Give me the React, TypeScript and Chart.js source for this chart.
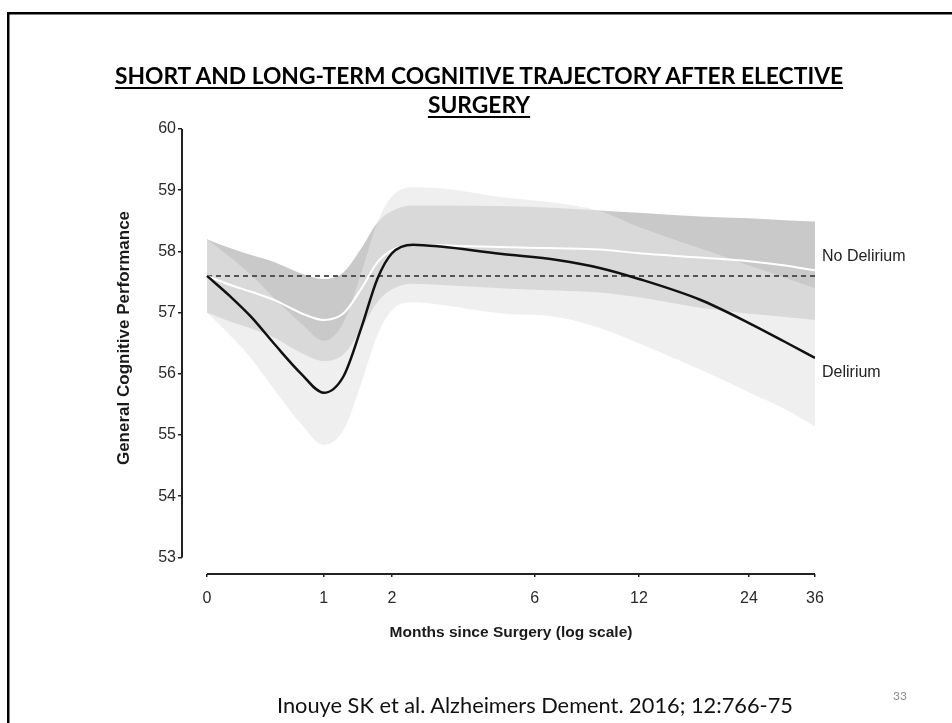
import React, { useEffect, useRef } from "react";
import { Chart, registerables } from "chart.js";

Chart.register(...registerables);

// ---------- data ----------
const months = [0, 0.15, 0.3, 0.5, 0.75, 1, 1.25, 1.5, 1.75, 2, 2.4, 3, 4.7, 7, 9.3, 12, 17.7, 24, 30, 36];

const delirium = [57.6, 57.26, 56.93, 56.47, 56.0, 55.69, 55.96, 56.75, 57.55, 57.97, 58.11, 58.08, 57.96, 57.86, 57.73, 57.55, 57.21, 56.83, 56.52, 56.26];
const deliriumUpper = [58.2, 57.9, 57.61, 57.22, 56.82, 56.54, 56.84, 57.65, 58.47, 58.9, 59.05, 59.03, 58.89, 58.79, 58.66, 58.4, 58.05, 57.77, 57.57, 57.4];
const deliriumLower = [57.0, 56.62, 56.25, 55.72, 55.18, 54.84, 55.08, 55.85, 56.63, 57.04, 57.17, 57.13, 56.99, 56.93, 56.75, 56.5, 56.07, 55.7, 55.42, 55.14];

const noDelirium = [57.6, 57.45, 57.34, 57.2, 56.99, 56.88, 56.99, 57.39, 57.82, 58.02, 58.11, 58.1, 58.07, 58.05, 58.03, 57.97, 57.9, 57.84, 57.77, 57.69];
const noDeliriumUpper = [58.2, 58.05, 57.94, 57.82, 57.64, 57.55, 57.66, 58.05, 58.47, 58.66, 58.75, 58.75, 58.74, 58.71, 58.67, 58.63, 58.57, 58.54, 58.51, 58.49];
const noDeliriumLower = [57.0, 56.85, 56.74, 56.58, 56.34, 56.21, 56.32, 56.73, 57.17, 57.38, 57.47, 57.45, 57.4, 57.36, 57.33, 57.25, 57.08, 56.98, 56.93, 56.88];

const baseline = 57.6;

const xTickMonths = [0, 1, 2, 6, 12, 24, 36];
const xTickLabels = ["0", "1", "2", "6", "12", "24", "36"];
const yTicks = [53, 54, 55, 56, 57, 58, 59, 60];

const seriesLabels = ["No Delirium", "Delirium"];
const seriesLabelValues = [57.91, 56.02];

const titleLines = ["SHORT AND LONG-TERM COGNITIVE TRAJECTORY AFTER ELECTIVE", "SURGERY"];
const xTitle = "Months since Surgery (log scale)";
const yTitle = "General Cognitive Performance";
const footer = "Inouye SK et al. Alzheimers Dement. 2016; 12:766-75";
const pageNumber = "33";

// ---------- helpers ----------
const logX = (m: number) => Math.log(m + 1);
const pts = (ys: number[]) => months.map((m, i) => ({ x: logX(m), y: ys[i] }));

const SANS = "'Liberation Sans', Arial, sans-serif";

const decorPlugin = {
  id: "decor",
  afterDraw(chart: any) {
    const { ctx, scales } = chart;
    const xs = scales.x;
    const ys = scales.y;
    ctx.save();
    // slide frame
    ctx.fillStyle = "#000";
    ctx.fillRect(7, 12, 960, 2.5);
    ctx.fillRect(7, 12, 2.5, 720);

    // axis lines (R style, detached)
    ctx.strokeStyle = "#222";
    ctx.lineWidth = 2;
    ctx.beginPath();
    const yx = ys.right;
    ctx.moveTo(yx, ys.getPixelForValue(yTicks[0]));
    ctx.lineTo(yx, ys.getPixelForValue(yTicks[yTicks.length - 1]));
    ctx.stroke();
    ctx.beginPath();
    const xy = xs.top;
    ctx.moveTo(xs.getPixelForValue(logX(xTickMonths[0])), xy);
    ctx.lineTo(xs.getPixelForValue(logX(xTickMonths[xTickMonths.length - 1])), xy);
    ctx.stroke();

    // axis titles
    ctx.fillStyle = "#1a1a1a";
    ctx.textAlign = "center";
    ctx.textBaseline = "middle";
    ctx.font = `bold 15.5px ${SANS}`;
    ctx.fillText(xTitle, 511, 633);
    ctx.save();
    ctx.translate(124, 338);
    ctx.rotate(-Math.PI / 2);
    ctx.font = `bold 17px ${SANS}`;
    ctx.fillText(yTitle, 0, 0);
    ctx.restore();

    // series labels at the right end
    ctx.font = `16px ${SANS}`;
    ctx.fillStyle = "#222";
    ctx.textAlign = "left";
    const xEnd = xs.getPixelForValue(logX(months[months.length - 1]));
    seriesLabels.forEach((t, i) => {
      ctx.fillText(t, xEnd + 7, ys.getPixelForValue(seriesLabelValues[i]));
    });
    ctx.restore();
  },
};

function ChartView() {
  const ref = useRef<HTMLCanvasElement | null>(null);
  useEffect(() => {
    if (!ref.current) return;
    const lineBase = {
      pointRadius: 0,
      pointHoverRadius: 0,
      cubicInterpolationMode: "monotone" as const,
    };
    const chart = new Chart(ref.current, {
      type: "line",
      data: {
        datasets: [
          { ...lineBase, label: "Delirium", data: pts(delirium), borderColor: "#111", borderWidth: 2.5, fill: false, order: 0 },
          { ...lineBase, label: "No Delirium", data: pts(noDelirium), borderColor: "#ffffff", borderWidth: 2, fill: false, order: 1 },
          {
            ...lineBase,
            label: "Baseline",
            data: [
              { x: logX(months[0]), y: baseline },
              { x: logX(months[months.length - 1]), y: baseline },
            ],
            borderColor: "#555",
            borderWidth: 2,
            borderDash: [5, 4],
            fill: false,
            order: 2,
          },
          { ...lineBase, label: "Delirium upper", data: pts(deliriumUpper), borderColor: "transparent", borderWidth: 0, backgroundColor: "rgba(228,228,228,0.6)", fill: 4, order: 3 },
          { ...lineBase, label: "Delirium lower", data: pts(deliriumLower), borderColor: "transparent", borderWidth: 0, fill: false, order: 4 },
          { ...lineBase, label: "No Delirium upper", data: pts(noDeliriumUpper), borderColor: "transparent", borderWidth: 0, backgroundColor: "#c9c9c9", fill: 6, order: 5 },
          { ...lineBase, label: "No Delirium lower", data: pts(noDeliriumLower), borderColor: "transparent", borderWidth: 0, fill: false, order: 6 },
        ],
      },
      options: {
        animation: false,
        responsive: true,
        maintainAspectRatio: false,
        events: [],
        layout: { padding: { left: 0, top: 129, right: 137, bottom: 0 } },
        plugins: {
          legend: { display: false },
          tooltip: { enabled: false },
          title: { display: false },
        },
        scales: {
          x: {
            type: "linear",
            min: -0.1485,
            max: logX(36),
            afterFit: (s: any) => {
              s.height = 149;
            },
            afterBuildTicks: (s: any) => {
              s.ticks = xTickMonths.map((m) => ({ value: logX(m) }));
            },
            grid: { display: true, drawOnChartArea: false, drawTicks: true, tickLength: 3, color: "#222", lineWidth: 1.5 },
            border: { display: false },
            ticks: {
              autoSkip: false,
              maxRotation: 0,
              padding: 12,
              color: "#2a2a2a",
              font: { family: SANS, size: 16 },
              callback: (_v: any, i: number) => xTickLabels[i],
            },
          },
          y: {
            type: "linear",
            min: 52.729,
            max: 60,
            afterFit: (s: any) => {
              s.width = 182;
            },
            afterBuildTicks: (s: any) => {
              s.ticks = yTicks.map((v) => ({ value: v }));
            },
            grid: { display: true, drawOnChartArea: false, drawTicks: true, tickLength: 4, color: "#222", lineWidth: 1.5 },
            border: { display: false },
            ticks: {
              padding: 2,
              color: "#2a2a2a",
              font: { family: SANS, size: 16 },
              callback: (v: any) => String(v),
            },
          },
        },
      },
      plugins: [decorPlugin],
    });
    return () => chart.destroy();
  }, []);
  return <canvas ref={ref} />;
}

export default function App() {
  return (
    <div style={{ position: "absolute", left: 0, top: 0, width: 952, height: 723, background: "#fff", overflow: "hidden" }}>
      <div style={{ position: "absolute", left: 0, top: 0, width: 952, height: 723 }}>
        <ChartView />
      </div>
      <div
        style={{
          position: "absolute",
          left: 6,
          top: 61,
          width: 946,
          textAlign: "center",
          fontFamily: "Lato, 'Open Sans', sans-serif",
          fontWeight: 700,
          fontSize: 22.8,
          lineHeight: "29px",
          color: "#000",
        }}
      >
        <span style={{ textDecoration: "underline", textDecorationThickness: "2px", textUnderlineOffset: "3px" }}>
          {titleLines[0]}
          <br />
          {titleLines[1]}
        </span>
      </div>
      <div
        style={{
          position: "absolute",
          left: 135,
          top: 691,
          width: 800,
          textAlign: "center",
          fontFamily: "Lato, 'Open Sans', sans-serif",
          fontSize: 21.8,
          lineHeight: "28px",
          color: "#111",
        }}
      >
        {footer}
      </div>
      <div
        style={{
          position: "absolute",
          left: 880,
          top: 688,
          width: 40,
          textAlign: "center",
          fontFamily: "Lato, 'Open Sans', sans-serif",
          fontSize: 12,
          lineHeight: "16px",
          color: "#8a8a8a",
        }}
      >
        {pageNumber}
      </div>
    </div>
  );
}
